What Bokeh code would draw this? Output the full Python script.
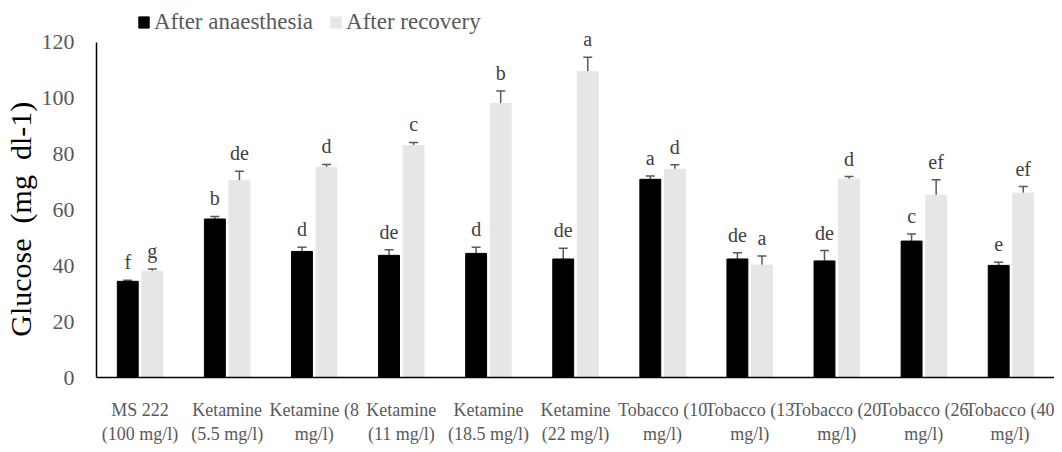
from bokeh.plotting import figure
from bokeh.models import ColumnDataSource, Whisker, TeeHead, LabelSet, FactorRange, FixedTicker, Range1d
from bokeh.transform import dodge
from bokeh.embed import file_html
from bokeh.resources import INLINE

categories = ["MS 222\n(100 mg/l)", "Ketamine\n(5.5 mg/l)", "Ketamine (8\nmg/l)", "Ketamine\n(11 mg/l)",
              "Ketamine\n(18.5 mg/l)", "Ketamine\n(22 mg/l)", "Tobacco (10\nmg/l)", "Tobacco (13\nmg/l)",
              "Tobacco (20\nmg/l)", "Tobacco (26\nmg/l)", "Tobacco (40\nmg/l)"]
anaesthesia = [34.4, 56.7, 45.1, 43.7, 44.4, 42.4, 70.9, 42.4, 41.7, 48.8, 40.1]
anaesthesia_err = [0.4, 0.9, 1.5, 2.0, 2.2, 3.8, 1.2, 2.2, 3.7, 2.5, 1.1]
recovery = [38.0, 70.4, 75.2, 83.0, 98.0, 109.4, 74.5, 40.2, 71.0, 65.2, 66.0]
recovery_err = [0.8, 3.4, 1.0, 1.1, 4.5, 5.2, 1.6, 3.3, 0.9, 5.5, 2.3]
anaesthesia_letters = ["f", "b", "d", "de", "d", "de", "a", "de", "de", "c", "e"]
recovery_letters = ["g", "de", "d", "c", "b", "a", "d", "a", "d", "ef", "ef"]
y_ticks = [0, 20, 40, 60, 80, 100, 120]

SERIF = "Liberation Serif"
GREY_TXT = "#595959"
NB = "\u00a0"

src_a = ColumnDataSource(dict(
    cat=categories, val=anaesthesia,
    lo=[v - e for v, e in zip(anaesthesia, anaesthesia_err)],
    hi=[v + e for v, e in zip(anaesthesia, anaesthesia_err)],
    lab=anaesthesia_letters))
src_r = ColumnDataSource(dict(
    cat=categories, val=recovery,
    lo=[v - e for v, e in zip(recovery, recovery_err)],
    hi=[v + e for v, e in zip(recovery, recovery_err)],
    lab=recovery_letters))

p = figure(x_range=FactorRange(*categories), y_range=Range1d(0, 132),
           frame_width=958, frame_height=369, output_backend="svg", toolbar_location=None,
           min_border_left=87, min_border_right=0, min_border_top=8, min_border_bottom=60)

off = 0.141
bw = 0.24
p.vbar(x=dodge("cat", -off, range=p.x_range), top="val", width=bw, source=src_a,
       fill_color="#000000", line_color="#000000", legend_label="After anaesthesia")
p.vbar(x=dodge("cat", off, range=p.x_range), top="val", width=bw, source=src_r,
       fill_color="#E7E6E6", line_color="#E7E6E6", legend_label="After recovery")

for src, o in ((src_a, -off), (src_r, off)):
    w = Whisker(base=dodge("cat", o, range=p.x_range), lower="lo", upper="hi", source=src,
                line_color="#595959", line_width=1.5,
                upper_head=TeeHead(size=9, line_color="#595959", line_width=1.5),
                lower_head=TeeHead(size=9, line_color="#595959", line_width=1.5))
    p.add_layout(w)
    ls = LabelSet(x=dodge("cat", o, range=p.x_range), y="hi", text="lab", source=src,
                  text_align="center", text_baseline="alphabetic", y_offset=11,
                  text_font=SERIF, text_font_size="20px", text_color="#404040")
    p.add_layout(ls)

p.xgrid.visible = False
p.ygrid.visible = False
p.outline_line_color = None

p.yaxis.ticker = FixedTicker(ticks=y_ticks)
p.yaxis.bounds = (0, 120)
p.yaxis.major_tick_line_color = None
p.yaxis.minor_tick_line_color = None
p.yaxis.axis_line_color = "#000000"
p.yaxis.axis_line_width = 1.5
p.yaxis.major_label_text_font = SERIF
p.yaxis.major_label_text_font_size = "22px"
p.yaxis.major_label_text_color = GREY_TXT
p.yaxis.major_label_standoff = 16
p.yaxis.axis_label = "Glucose" + NB * 2 + "(mg" + NB * 2 + "dl-1)" + NB * 7
p.yaxis.axis_label_text_font = SERIF
p.yaxis.axis_label_text_font_size = "30px"
p.yaxis.axis_label_text_font_style = "normal"
p.yaxis.axis_label_text_color = "#000000"
p.yaxis.axis_label_standoff = 2

p.xaxis.major_tick_line_color = None
p.xaxis.minor_tick_line_color = None
p.xaxis.axis_line_color = "#000000"
p.xaxis.axis_line_width = 1.5
p.xaxis.major_label_text_font = SERIF
p.xaxis.major_label_text_font_size = "18px"
p.xaxis.major_label_text_color = GREY_TXT
p.xaxis.major_label_standoff = 16

p.legend.orientation = "horizontal"
p.legend.location = (41, 342)
p.legend.border_line_alpha = 0
p.legend.background_fill_alpha = 0
p.legend.padding = 0
p.legend.margin = 0
p.legend.spacing = 16
p.legend.label_standoff = 4
p.legend.label_height = 26
p.legend.glyph_width = 13
p.legend.glyph_height = 14
p.legend.label_text_font = SERIF
p.legend.label_text_font_size = "23px"
p.legend.label_text_color = GREY_TXT

open("out.html", "w").write(file_html(p, INLINE))
